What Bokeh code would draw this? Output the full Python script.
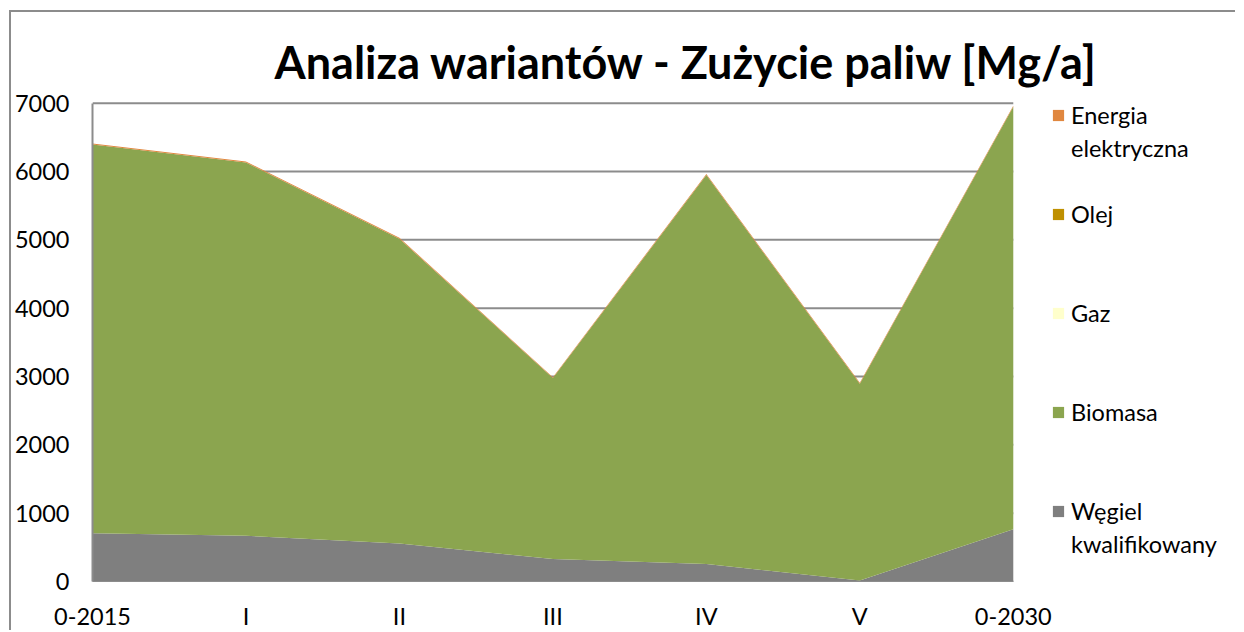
from bokeh.plotting import figure
from bokeh.models import Legend, LegendItem, FixedTicker, Range1d, Label
from bokeh.embed import file_html
from bokeh.resources import INLINE

categories = ["0-2015", "I", "II", "III", "IV", "V", "0-2030"]
wegiel = [706, 670, 555, 330, 257, 15, 765]
biomasa = [5690, 5460, 4460, 2648, 5691, 2880, 6183]
gaz = [0, 0, 0, 0, 0, 0, 0]
olej = [0, 0, 0, 0, 0, 0, 0]
energia = [15, 15, 15, 12, 15, 12, 15]

# legend label lines (first line, continuation line)
legend_lines = [["Węgiel", "kwalifikowany"], ["Biomasa"], ["Gaz"], ["Olej"], ["Energia", "elektryczna"]]
colors = ["#7F7F7F", "#8BA54F", "#FFFFCC", "#BF9000", "#E0873F"]
title_text = "Analiza wariantów - Zużycie paliw [Mg/a]"
y_ticks = [0, 1000, 2000, 3000, 4000, 5000, 6000, 7000]

FONT = "Lato"
FS = "23.5px"
BORDER = "2px solid #8C8C8C"

# layout (pixels)
W, H = 1226, 620
LEFT, BOTTOM = 77, 44
EFFECTIVE_H = H - 6
PX_PER_X = 154.0
PX_PER_Y = 479.2 / 7000

xs = list(range(len(categories)))
keys = ["wegiel", "biomasa", "gaz", "olej", "energia"]
data = dict(x=xs)
for k, vals in zip(keys, [wegiel, biomasa, gaz, olej, energia]):
    data[k] = vals

frame_w = W - LEFT
frame_h = EFFECTIVE_H - BOTTOM
p = figure(width=W, height=H, output_backend="svg", toolbar_location=None,
           x_range=Range1d(0, frame_w / PX_PER_X), y_range=Range1d(0, frame_h / PX_PER_Y),
           min_border_left=LEFT, min_border_right=0, min_border_top=0,
           min_border_bottom=BOTTOM)
p.styles = {"margin-left": "9px", "margin-top": "10px",
            "border-left": BORDER, "border-top": BORDER}

p.outline_line_color = None
p.xgrid.grid_line_color = None
p.ygrid.grid_line_color = None

# horizontal gridlines over the category span only
p.segment(x0=[xs[0]] * len(y_ticks), x1=[xs[-1]] * len(y_ticks), y0=y_ticks, y1=y_ticks,
          line_color="#8C8C8C", line_width=2)

renderers = p.varea_stack(stackers=keys, x="x", color=colors, source=data)
blank = p.varea(x=[0, 1], y1=[0, 0], y2=[0, 0], fill_alpha=0)

p.yaxis.ticker = FixedTicker(ticks=y_ticks)
p.yaxis.bounds = (y_ticks[0], y_ticks[-1])
p.yaxis.major_tick_line_color = None
p.yaxis.minor_tick_line_color = None
p.yaxis.axis_line_color = "#8C8C8C"
p.yaxis.axis_line_width = 2
p.yaxis.major_label_text_font = FONT
p.yaxis.major_label_text_font_size = FS
p.yaxis.major_label_text_color = "black"
p.yaxis.major_label_standoff = 17

p.xaxis.ticker = FixedTicker(ticks=xs)
p.xaxis.bounds = (xs[0], xs[-1])
p.xaxis.major_label_overrides = {i: c for i, c in enumerate(categories)}
p.xaxis.major_tick_line_color = None
p.xaxis.minor_tick_line_color = None
p.xaxis.axis_line_color = "#8C8C8C"
p.xaxis.axis_line_width = 1
p.xaxis.major_label_text_font = FONT
p.xaxis.major_label_text_font_size = FS
p.xaxis.major_label_text_color = "black"
p.xaxis.major_label_standoff = 14

title = Label(x=182, y=frame_h - 50, x_units="screen", y_units="screen", text=title_text,
              text_font=FONT, text_font_style="bold", text_font_size="45px",
              text_align="left", text_baseline="alphabetic", text_color="black")
p.add_layout(title)

items = []
order = [4, 3, 2, 1, 0]
for n, i in enumerate(order):
    lines = legend_lines[i]
    items.append(LegendItem(label=lines[0], renderers=[renderers[i]]))
    items.append(LegendItem(label=lines[1] if len(lines) > 1 else " ", renderers=[blank]))
    if n < len(order) - 1:
        items.append(LegendItem(label=" ", renderers=[blank]))

legend = Legend(items=items, location=(959, 21), padding=0, margin=0,
                border_line_color=None, background_fill_alpha=0,
                glyph_width=14, glyph_height=14, label_height=33, spacing=0,
                label_standoff=6, label_text_font=FONT,
                label_text_font_size=FS, label_text_color="black")
p.add_layout(legend, "center")

open("out.html", "w").write(file_html(p, INLINE))
